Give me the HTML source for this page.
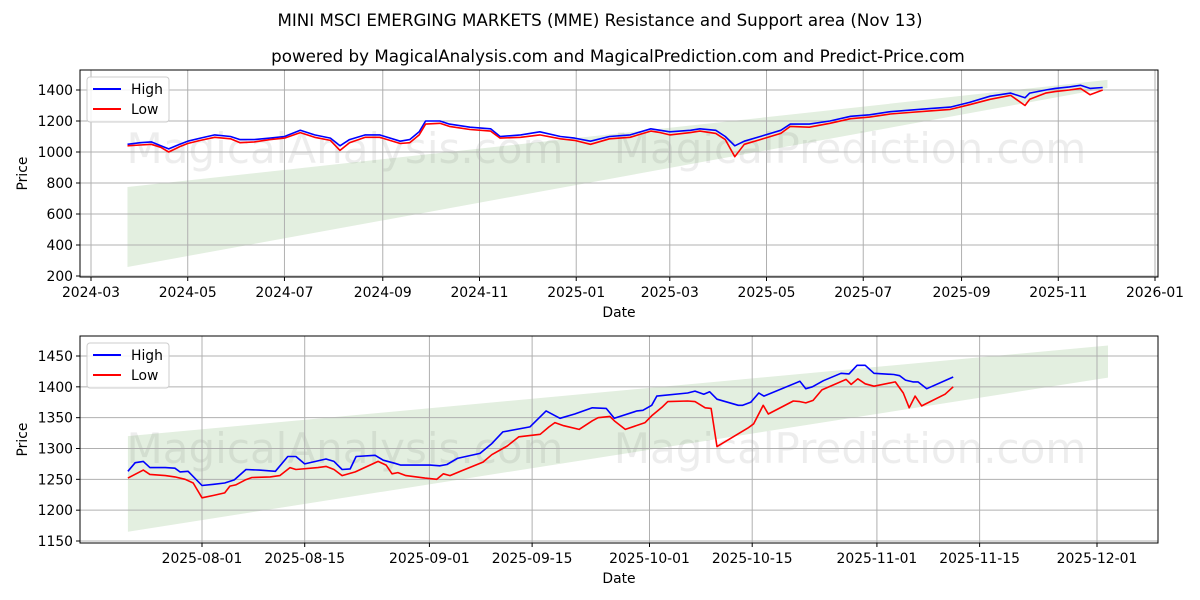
<!DOCTYPE html>
<html><head><meta charset="utf-8"><style>
body{margin:0;background:#fff;}
svg{display:block;font-family:"DejaVu Sans","Liberation Sans",sans-serif;}
</style></head><body>
<svg id="chart" width="1200" height="600" xmlns="http://www.w3.org/2000/svg">
<text x="600" y="26" text-anchor="middle" font-size="16.7">MINI MSCI EMERGING MARKETS (MME) Resistance and Support area (Nov 13)</text>
<text x="618" y="62" text-anchor="middle" font-size="16.7">powered by MagicalAnalysis.com and MagicalPrediction.com and Predict-Price.com</text>
</svg>
<script>
// Top chart data (days since 2024-03-01)
const topDays=[23,31,38,44,49,56,61,69,78,88,94,103,113,122,132,141,151,157,163,173,182,195,201,207,211,220,226,239,252,258,271,283,296,305,315,327,340,353,359,365,378,384,394,400,406,412,422,435,441,453,466,479,491,504,516,529,542,554,567,580,589,592,602,608,617,624,630,638];
const topHigh=[1050,1060,1065,1040,1020,1050,1070,1090,1110,1100,1080,1080,1090,1100,1140,1110,1090,1040,1080,1110,1110,1070,1080,1130,1200,1200,1180,1160,1150,1100,1110,1130,1100,1090,1070,1100,1110,1150,1140,1130,1140,1150,1140,1100,1040,1070,1100,1140,1180,1180,1200,1230,1240,1260,1270,1280,1290,1320,1360,1380,1350,1380,1400,1410,1420,1430,1410,1416];
const topLow=[1040,1045,1050,1030,1000,1035,1055,1075,1095,1085,1060,1065,1080,1090,1125,1095,1075,1010,1060,1095,1095,1055,1060,1110,1180,1185,1165,1145,1135,1090,1095,1110,1085,1075,1050,1085,1095,1135,1125,1110,1125,1135,1120,1080,970,1050,1080,1120,1165,1160,1185,1215,1225,1245,1255,1265,1275,1305,1340,1365,1300,1340,1380,1390,1400,1410,1370,1400];
const topBandDays=[23,641];
const topBandUpper=[774,1465];
const topBandLower=[258,1413];
const topYTicks=[200,400,600,800,1000,1200,1400];
const topXTickDays=[0,61,122,184,245,306,365,426,487,549,610,671];
const topXTickLabels=["2024-03","2024-05","2024-07","2024-09","2024-11","2025-01","2025-03","2025-05","2025-07","2025-09","2025-11","2026-01"];
// Bottom chart data (days since 2025-08-01)
const botHighDays=[-10.1,-9.1,-8,-7.1,-5,-3.7,-3,-1.9,0,1.6,3.1,4.4,6,7.8,10,11.7,12.8,14,16.9,18,19.1,20.2,21,23.6,24.7,26.3,27.1,31.1,32.4,33.4,34.8,37.9,39.5,41,44.7,46.9,48.8,50.8,53.2,55.1,56.2,59.3,60.1,61.3,62,66.2,67.2,68.4,69.2,70.2,73.1,73.7,74.8,75.9,76.6,81.5,82.3,83.2,84.7,87.1,88.2,89.3,90.4,91.6,94.3,95.1,95.9,96.9,97.6,98.8,102.4];
const botHigh=[1263,1277,1279,1269,1269,1268,1262,1263,1240,1242,1244,1249,1266,1265,1263,1287,1287,1275,1283,1279,1266,1267,1287,1289,1281,1276,1273,1273,1272,1274,1284,1292,1308,1327,1335,1361,1349,1356,1366,1365,1349,1361,1362,1370,1385,1390,1393,1388,1392,1380,1370,1370,1375,1390,1385,1409,1397,1400,1410,1422,1421,1435,1435,1422,1420,1418,1411,1408,1408,1397,1416];
const botLowDays=[-10.1,-8,-7.1,-5,-3.7,-2.3,-1.2,0,1.6,3.1,3.8,4.6,5.9,6.8,9.3,10.6,12,12.8,15.8,16.9,18,19.1,20.9,24,25.1,25.9,26.7,27.8,30.4,32,32.9,33.8,35.4,38.3,39.5,41.6,43.2,46.1,47.3,48.1,49.3,51.4,53.2,54,55.6,56.3,57.7,60.4,61.3,62.8,63.5,66.2,67.2,68.6,69.4,70.2,74.4,75.2,76.5,77.2,80.6,81.5,82.3,83.3,84.5,87.8,88.5,89.4,90.4,91.6,94.5,95.6,96.4,97.2,98.1,101.3,102.4];
const botLow=[1252,1265,1258,1256,1254,1250,1244,1220,1224,1228,1239,1241,1249,1253,1254,1256,1269,1266,1269,1271,1266,1256,1262,1279,1273,1259,1261,1256,1252,1250,1259,1256,1264,1278,1290,1304,1319,1323,1335,1342,1337,1331,1345,1350,1352,1344,1331,1342,1353,1368,1376,1377,1376,1366,1365,1303,1333,1340,1370,1356,1377,1376,1374,1378,1395,1412,1404,1413,1405,1401,1408,1390,1366,1385,1369,1388,1400];
const botBandDays=[-10.1,123.5];
const botBandUpper=[1320,1467];
const botBandLower=[1165,1415];
const botYTicks=[1150,1200,1250,1300,1350,1400,1450];
const botXTickDays=[0,14,31,45,61,75,92,106,122];
const botXTickLabels=["2025-08-01","2025-08-15","2025-09-01","2025-09-15","2025-10-01","2025-10-15","2025-11-01","2025-11-15","2025-12-01"];

const NS="http://www.w3.org/2000/svg";
const svg=document.getElementById('chart');
const FS=13.9;
function mk(tag,attrs,parent,txt){const e=document.createElementNS(NS,tag);for(const k in attrs)e.setAttribute(k,attrs[k]);if(txt!==undefined)e.textContent=txt;(parent||svg).appendChild(e);return e;}

function panel(cfg){
  const g=mk('g',{});
  
  
  const L=80,R=1158,T=cfg.top,B=cfg.bottom;
  const xs=cfg.xs, ys=cfg.ys;
  const bp=[[xs(cfg.bandDays[0]),ys(cfg.bandUpper[0])],[xs(cfg.bandDays[1]),ys(cfg.bandUpper[1])],[xs(cfg.bandDays[1]),ys(cfg.bandLower[1])],[xs(cfg.bandDays[0]),ys(cfg.bandLower[0])]];
  const band=mk('polygon',{points:bp.map(p=>p.join(',')).join(' '),fill:'#e3efe0'},g);
  
  
  const w1=mk('text',{x:345,y:cfg.wmY,'text-anchor':'middle','font-size':42,fill:'rgba(0,0,0,0.07)'},g,'MagicalAnalysis.com');
  
  
  const w2=mk('text',{x:850,y:cfg.wmY,'text-anchor':'middle','font-size':42,fill:'rgba(0,0,0,0.07)'},g,'MagicalPrediction.com');
  
  
  cfg.yTicks.forEach(v=>{const y=ys(v);
    mk('line',{x1:L,x2:R,y1:y,y2:y,stroke:'#b0b0b0','stroke-width':1},g);
    mk('line',{x1:L-4,x2:L,y1:y,y2:y,stroke:'#000'},g);
    const t=mk('text',{x:L-7,y:y+5,'text-anchor':'end','font-size':FS},g,String(v));
    
    
  });
  cfg.xTicks.forEach((d,i)=>{const x=xs(d);
    mk('line',{x1:x,x2:x,y1:T,y2:B,stroke:'#b0b0b0','stroke-width':1},g);
    mk('line',{x1:x,x2:x,y1:B,y2:B+4,stroke:'#000'},g);
    const t=mk('text',{x:x,y:B+20,'text-anchor':'middle','font-size':FS},g,cfg.xLabels[i]);
    
    
  });
  const hp=cfg.hDays.map((d,i)=>xs(d).toFixed(1)+','+ys(cfg.high[i]).toFixed(1)).join(' ');
  const hl=mk('polyline',{points:hp,fill:'none',stroke:'#0000ff','stroke-width':1.6,'stroke-linejoin':'round'},g);
  
  
  const lp=cfg.lDays.map((d,i)=>xs(d).toFixed(1)+','+ys(cfg.low[i]).toFixed(1)).join(' ');
  const ll=mk('polyline',{points:lp,fill:'none',stroke:'#ff0000','stroke-width':1.6,'stroke-linejoin':'round'},g);
  
  
  mk('rect',{x:L,y:T,width:R-L,height:B-T,fill:'none',stroke:'#000','stroke-width':1},g);
  const xt=mk('text',{x:619,y:B+40,'text-anchor':'middle','font-size':FS},g,'Date');
  
  
  const yc=(T+B)/2;
  const yt=mk('text',{x:cfg.yLabX,y:yc,'text-anchor':'middle','font-size':FS,transform:`rotate(-90 ${cfg.yLabX} ${yc})`},g,'Price');
  
  
  const lg=mk('g',{},g);
  
  
  const ly=T+7;
  mk('rect',{x:87,y:ly,width:82,height:45,rx:3,fill:'rgba(255,255,255,0.85)',stroke:'#ccc'},lg);
  mk('line',{x1:93,x2:121,y1:ly+12,y2:ly+12,stroke:'#0000ff','stroke-width':2},lg);
  const e1=mk('text',{x:131,y:ly+17,'font-size':FS},lg,'High');
  
  
  mk('line',{x1:93,x2:121,y1:ly+32,y2:ly+32,stroke:'#ff0000','stroke-width':2},lg);
  const e2=mk('text',{x:131,y:ly+37,'font-size':FS},lg,'Low');
  
  
}

panel({name:'top-panel',top:70,bottom:277,wmY:163,yLabX:27,
  xs:d=>91+d*1.5857, ys:v=>276-(v-200)*0.155,
  bandDays:topBandDays,bandUpper:topBandUpper,bandLower:topBandLower,
  yTicks:topYTicks,xTicks:topXTickDays,xLabels:topXTickLabels,
  hDays:topDays,high:topHigh,lDays:topDays,low:topLow});
panel({name:'bottom-panel',top:336,bottom:543,wmY:463,yLabX:27,
  xs:d=>202+d*7.336, ys:v=>356+(1450-v)*185/300,
  bandDays:botBandDays,bandUpper:botBandUpper,bandLower:botBandLower,
  yTicks:botYTicks,xTicks:botXTickDays,xLabels:botXTickLabels,
  hDays:botHighDays,high:botHigh,lDays:botLowDays,low:botLow});
</script>
</body></html>
